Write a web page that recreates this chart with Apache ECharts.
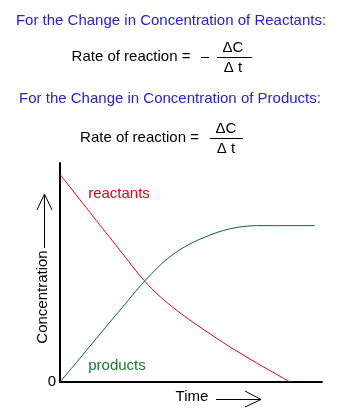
<!DOCTYPE html>
<html>
<head>
<meta charset="utf-8">
<script src="https://cdn.jsdelivr.net/npm/echarts@6/dist/echarts.min.js"></script>
<style>
html,body{margin:0;padding:0;background:#fff;}
#chart{width:341px;height:419px;}
</style>
</head>
<body>
<div id="chart"></div>
<script>
// Data (time and concentration in arbitrary units 0-100)
const reactTime = [0, 5, 10, 15, 20, 25, 30, 35, 40, 45, 50, 55, 60, 65, 70, 75, 80, 85, 87.8];
const reactConc = [94.8, 87.2, 79.6, 72.0, 64.5, 56.9, 49.3, 42.6, 37.1, 32.3, 27.9, 23.8, 19.8, 15.9, 12.3, 8.7, 5.3, 1.9, 0];
const prodTime = [0, 5, 10, 15, 20, 25, 30, 35, 40, 45, 50, 55, 60, 65, 70, 75, 80, 97.3];
const prodConc = [0, 7.1, 14.3, 21.5, 28.7, 35.8, 43.0, 49.5, 55.3, 59.8, 63.3, 66.0, 68.3, 70.0, 71.0, 71.4, 71.4, 71.4];
const yTickLabels = ['0'];

const FONT = '15px "Liberation Sans", Arial, sans-serif';
const BLUE = '#2424c8';

const chart = echarts.init(document.getElementById('chart'), null, {renderer: 'canvas'});

function txt(text, x, y, color, align, extra) {
  return Object.assign({
    type: 'text', x: x, y: y,
    style: {text: text, fill: color || '#000', font: FONT, align: align || 'center', verticalAlign: 'middle'}
  }, extra || {});
}
function line(x1, y1, x2, y2) {
  return {type: 'line', shape: {x1: x1, y1: y1, x2: x2, y2: y2}, style: {stroke: '#000', lineWidth: 1}};
}
function poly(points) {
  return {type: 'polyline', shape: {points: points}, style: {stroke: '#000', lineWidth: 1, fill: null}};
}

chart.setOption({
  animation: false,
  backgroundColor: '#fff',
  grid: {left: 60, top: 163, width: 262, height: 219},
  xAxis: {
    type: 'value', min: 0, max: 100,
    axisLine: {show: true, lineStyle: {color: '#000', width: 2}},
    axisTick: {show: false}, axisLabel: {show: false}, splitLine: {show: false}
  },
  yAxis: {
    type: 'value', min: 0, max: 100, interval: 100,
    axisLine: {show: true, lineStyle: {color: '#000', width: 2}},
    axisTick: {show: false},
    axisLabel: {
      show: true, margin: 4, color: '#000', fontSize: 15, fontFamily: '"Liberation Sans", Arial, sans-serif',
      formatter: function (v) { return v === 0 ? yTickLabels[0] : ''; }
    },
    splitLine: {show: false}
  },
  series: [
    {
      name: 'reactants', type: 'line', showSymbol: false, smooth: 0.3,
      data: reactTime.map((t, i) => [t, reactConc[i]]),
      lineStyle: {color: '#dd0022', width: 1}
    },
    {
      name: 'products', type: 'line', showSymbol: false, smooth: 0.3,
      data: prodTime.map((t, i) => [t, prodConc[i]]),
      lineStyle: {color: '#006633', width: 1}
    }
  ],
  graphic: [
    txt('For the Change in Concentration of Reactants:', 171, 21, BLUE),
    txt('Rate of reaction =', 131, 57, '#000'),
    line(201, 57.5, 209, 57.5),
    txt('\u0394C', 233, 48, '#000'),
    line(217, 57.5, 252, 57.5),
    txt('\u0394 t', 233, 68, '#000'),
    txt('For the Change in Concentration of Products:', 170, 99, BLUE),
    txt('Rate of reaction =', 139.5, 138, '#000'),
    txt('\u0394C', 226, 129, '#000'),
    line(210, 138.5, 243, 138.5),
    txt('\u0394 t', 226, 149, '#000'),
    txt('reactants', 119, 194, '#e0001c'),
    txt('products', 117, 366, '#1a7a2a'),
    txt('Time', 192, 397, '#000'),
    line(216, 399.5, 260, 399.5),
    poly([[245, 391], [261, 399.5], [245, 407]]),
    txt('Concentration', 43, 297, '#000', 'center', {rotation: Math.PI / 2}),
    line(44.5, 248, 44.5, 194),
    poly([[37, 210], [44.5, 194], [52, 210]])
  ]
});
</script>
</body>
</html>
